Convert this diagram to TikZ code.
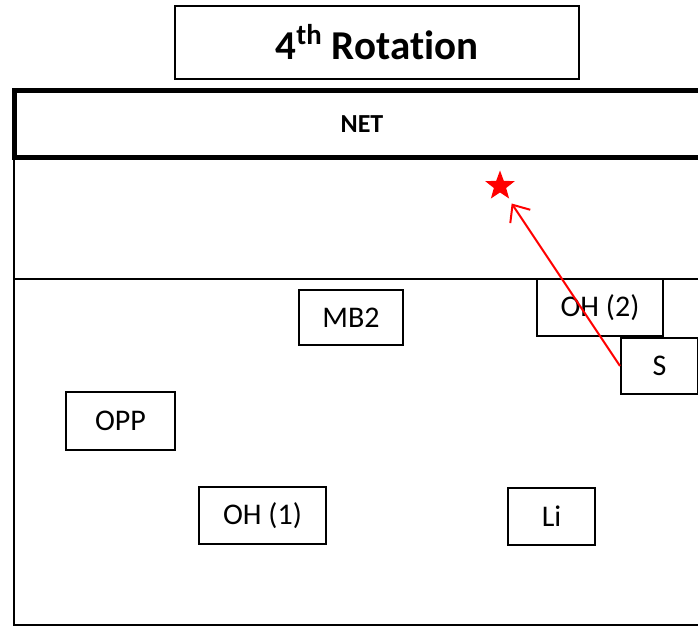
\documentclass[tikz,border=0pt]{standalone}
\usepackage{fontspec}
\setmainfont{Carlito}[Ligatures=NoCommon]
\usepackage{xcolor}
\usetikzlibrary{positioning}
\usetikzlibrary{arrows.meta}
\usetikzlibrary{shapes.geometric}
\colorlet{markCol}{red}

\tikzset{
  player/.style={draw=black, line width=1pt, fill=white, inner sep=0pt,
    font=\fontsize{15}{18}\selectfont},
  banner/.style={draw=black, inner sep=0pt, font=\bfseries}
}

\begin{document}
\begin{tikzpicture}[x=0.5pt, y=-0.5pt]
%--------------------------------------------------
\useasboundingbox (0,0) rectangle (698,626);
\clip (0,0) rectangle (698,626);

% title box
\node[banner, line width=0.75pt, minimum width=202pt, minimum height=36.5pt,
  font=\bfseries\fontsize{20.5}{24}\selectfont] (title) at (377,42.5) {4\textsuperscript{th} Rotation};

% net strip, runs off the right edge
\node[banner, line width=2.5pt, minimum width=348pt, minimum height=33.5pt,
  font=\bfseries\fontsize{13}{16}\selectfont] (net) at (362,124.5) {NET};

% court outline and the attack line
\draw [line width=0.75pt](14,158) -- (14,625) -- (710,625);
\draw [line width=0.75pt](14,279) -- (710,279);

% players
\node[player, minimum width=52pt, minimum height=27.5pt] (mb2) at (351,317.5) {MB2};
\node[player, minimum width=63pt, minimum height=28.5pt] (oh2) at (600,307.5) {OH (2)};
\node[player, minimum width=38.5pt, minimum height=28pt] (s) at (659.5,366) {S};
\node[player, minimum width=54.5pt, minimum height=29pt] (opp) at (120.5,421) {OPP};
\node[player, minimum width=63.5pt, minimum height=28.5pt] (oh1) at (262.5,515.5) {OH (1)};
\node[player, minimum width=43.5pt, minimum height=28.5pt] (li) at (551.5,516.5) {Li};

% setter's target
\node[star, star points=5, star point ratio=2.4, fill=markCol, inner sep=0pt,
  minimum size=15.5pt] (target) at (500,186) {};

% setter runs to the target
\draw [markCol, line width=1pt, -{Straight Barb[length=7pt, width=12pt]},
  shorten >=3pt](s.west) -- (target);

%--------------------------------------------------
\end{tikzpicture}
\end{document}
